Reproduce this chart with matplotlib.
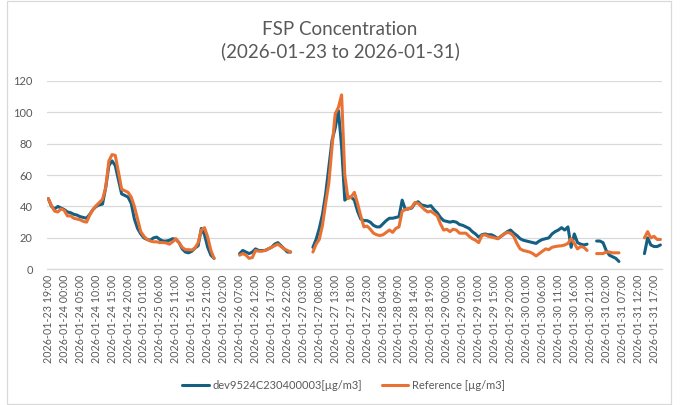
## plot.py: FSP concentration, device vs reference (hourly)
# -----------------------------------------------------------------------------
import numpy as np
import pandas as pd
from matplotlib import (pyplot as plt, patches as pat)

# -----------------------------------------------------------------------------
## --- section_a: data (hourly values, nan = no data) ---
nan = np.nan
start_time = '2026-01-23 19:00'

dev_values = [
    45, 40, 38.5, 40, 39, 38, 36.5, 36, 35, 34.5,
    33.5, 33, 32.5, 35, 38, 40, 41, 41.5, 52, 66,
    69, 66, 57, 48, 47, 46, 42, 32, 26, 22.5,
    20, 19, 18.5, 20, 20.5, 19, 18, 18, 18.5, 19.5,
    19, 17, 13, 11, 10.5, 11.5, 13.5, 15, 26, 22,
    14, 9, 7,
    nan, nan, nan, nan, nan, nan, nan,
    10, 12, 11, 10, 11, 13, 12, 12, 12, 13,
    14, 16, 17, 15, 13, 11, 11,
    nan, nan, nan, nan, nan, nan,
    14, 19, 26, 35, 48, 65, 82, 90, 101, 78,
    44, 46, 46, 44, 37, 32, 31, 31, 30, 28,
    27, 27, 29, 31, 32.5, 32.5, 33, 33.5, 44, 38,
    38.5, 39, 42, 43, 41, 40.5, 40, 40.5, 38, 36,
    33, 31, 30.5, 30, 30.5, 30, 28.5, 28, 27, 26,
    24, 22.5, 20.5, 22, 22.5, 22, 22, 21, 19.5, 21,
    22.5, 24, 25, 23, 21.5, 19.5, 18.5, 18, 17.5, 17,
    16.5, 18, 19, 19.5, 20, 22.5, 24, 25, 26.5, 25,
    27, 14, 22.5, 17, 16, 15.5, 16,
    nan, nan,
    18, 18, 17, 12, 9, 8, 7, 5,
    nan, nan, nan, nan, nan, nan, nan,
    10, 20, 15.5, 14.5, 14.5, 15.5]

ref_values = [
    45, 40.5, 37, 36.5, 38.5, 37.5, 34, 34, 32.5, 32,
    31.5, 30.5, 30, 34.5, 38, 40.5, 42.5, 44.5, 52, 69,
    73, 72.5, 62, 51, 50, 49, 46, 40, 32, 24,
    21, 19, 18, 17.5, 17.5, 17, 17, 16.8, 16, 17.5,
    19.5, 17, 14, 12.5, 12.5, 12.3, 13.5, 17, 25, 26.5,
    20.5, 12, 7,
    nan, nan, nan, nan, nan, nan, nan,
    9, 10, 9, 7, 7.5, 12, 11.5, 11.5, 12, 13,
    14, 15, 16, 14.5, 13, 12, 11,
    nan, nan, nan, nan, nan, nan,
    11, 16, 19, 28, 42, 55, 78, 99, 103, 111,
    60, 45, 46, 49, 42, 34, 27, 27.5, 25.5, 23,
    22, 21.5, 22, 23.5, 25, 23.5, 26, 27, 37, 38,
    38.5, 39.5, 42.5, 42, 40, 38, 36.5, 37, 35.5, 34,
    29, 25, 25.5, 24, 25.5, 25, 23, 23, 23, 21,
    19.5, 18.5, 17, 21.5, 22, 21, 20.5, 20, 19.5, 21,
    22.5, 23.5, 23, 21, 16.5, 13, 12, 11.5, 11, 10,
    8.5, 10, 11.5, 13, 12.5, 14, 14.5, 14.8, 15, 15.5,
    16.5, 19.5, 16.5, 13, 14.5, 14, 12,
    nan, nan,
    10, 10, 10, 11, 11, 10.5, 10.5, 10.5,
    nan, nan, nan, nan, nan, nan, nan,
    20, 24, 20, 21, 19, 19]

dev_label = 'dev9524C230400003[\u00b5g/m3]'
ref_label = 'Reference [\u00b5g/m3]'
title_text = 'FSP Concentration\n(2026-01-23 to 2026-01-31)'
yticks = [0, 20, 40, 60, 80, 100, 120]

times = pd.date_range(start_time, periods=len(dev_values), freq='h')
time_labels = [t.strftime('%Y-%m-%d %H:%M') for t in times]

# -----------------------------------------------------------------------------
## --- section_b: drawing ---
plt.rcParams['font.family'] = ['Lato', 'DejaVu Sans']
text_color = '#595959'
grid_color = '#d9d9d9'

fig = plt.figure(figsize=(6.8, 4.05), dpi=100)
ax = fig.add_axes([0.0687, 0.335, 0.9048, 0.4657])

xx = np.arange(len(dev_values))
ax.plot(xx, dev_values, color='#156082', linewidth=2.2,
    solid_capstyle='round', label=dev_label)
ax.plot(xx, ref_values, color='#E97132', linewidth=2.2,
    solid_capstyle='round', label=ref_label)

ax.set_xlim(-0.5, len(dev_values) - 0.5)
ax.set_ylim(0, 120)
ax.set_yticks(yticks)
ax.set_xticks(xx[::5])
ax.set_xticklabels(time_labels[::5], rotation=90)
ax.tick_params(axis='x', length=0, labelsize=7.7, labelcolor=text_color, pad=4)
ax.tick_params(axis='y', length=0, labelsize=8, labelcolor=text_color, pad=10)
ax.grid(axis='y', color=grid_color, linewidth=0.9)
ax.set_axisbelow(True)
for side in ('top', 'right', 'left'):
    ax.spines[side].set_visible(False)
ax.spines['bottom'].set_color(grid_color)
ax.spines['bottom'].set_linewidth(0.9)

fig.text(0.5, 0.90, title_text, ha='center', va='center',
    fontsize=13.5, color=text_color, linespacing=1.25)

ax.legend(loc='center', bbox_to_anchor=(0.505, 0.048), bbox_transform=fig.transFigure,
    ncol=2, frameon=False, fontsize=8, labelcolor=text_color,
    handlelength=2.4, columnspacing=1.8, handletextpad=0.3)

# chart area border
fig.patches.append(pat.Rectangle((7 / 680, 0.002), 664 / 680, 0.996,
    transform=fig.transFigure, fill=False, edgecolor=grid_color, linewidth=0.9))

fig.savefig('out.png', dpi=100)
